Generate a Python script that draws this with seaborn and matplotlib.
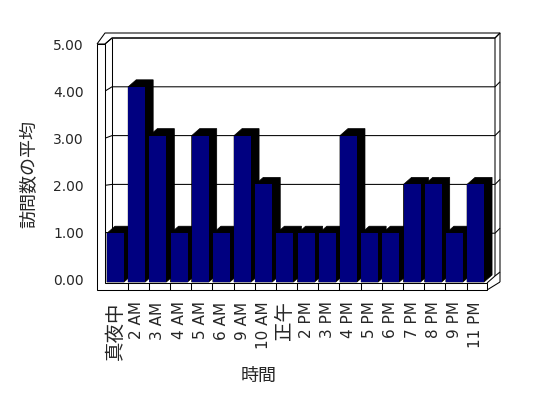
import matplotlib
matplotlib.use("Agg")
import matplotlib.pyplot as plt
import seaborn as sns
import pandas as pd
from matplotlib.patches import Polygon
from matplotlib.lines import Line2D

# ---- data ----
categories = ["真夜中", "2 AM", "3 AM", "4 AM", "5 AM", "6 AM", "9 AM", "10 AM", "正午",
              "2 PM", "3 PM", "4 PM", "5 PM", "6 PM", "7 PM", "8 PM", "9 PM", "11 PM"]
values = [1, 4, 3, 1, 3, 1, 3, 2, 1, 1, 1, 3, 1, 1, 2, 2, 1, 2]
ytick_values = [0, 1, 2, 3, 4, 5]
ytick_labels = ["0.00", "1.00", "2.00", "3.00", "4.00", "5.00"]
xlabel = "時間"
ylabel = "訪問数の平均"

# ---- style ----
W, H = 548, 398
sns.set_theme(style="white")
plt.rcParams["font.family"] = ["DejaVu Sans", "Noto Sans CJK JP"]
NAVY = "#000080"
LW = 0.75

fig = plt.figure(figsize=(W / 100, H / 100), dpi=100)
fig.patch.set_facecolor("white")

# background overlay in pixel coordinates (y downwards) for the 3-D frame
bg = fig.add_axes([0, 0, 1, 1], zorder=0)
bg.set_xlim(0, W)
bg.set_ylim(H, 0)
bg.axis("off")

# main axes: front plane of the columns
P = 21.18                     # slot pitch in px
c0 = 115.5                    # centre of first column
ax_left = c0 - P / 2
ax_w = 18 * P
y0_px, y5_px = 282.0, 38.0    # value 0 and value 5 on the column plane
ax = fig.add_axes([ax_left / W, (H - y0_px) / H, ax_w / W, (y0_px - y5_px) / H], zorder=2)
ax.patch.set_alpha(0)

df = pd.DataFrame({xlabel: categories, ylabel: values})
sns.barplot(data=df, x=xlabel, y=ylabel, order=categories, ax=ax, color=NAVY,
            saturation=1, width=17 / P, linewidth=0, errorbar=None)
ax.set_xlim(-0.5, len(categories) - 0.5)
ax.set_ylim(0, 5)
for s in ax.spines.values():
    s.set_visible(False)
ax.set_yticks([])
ax.set_ylabel("")
ax.set_xticks(range(len(categories)))
ax.set_xticklabels(categories, rotation=90)
ax.tick_params(axis="x", length=0, pad=14)
for t in ax.get_xticklabels():
    if any(ord(ch) > 0x3000 for ch in t.get_text()):
        t.set_fontsize(14)
        t.set_family(["Noto Sans CJK JP"])
    else:
        t.set_fontsize(11)
ax.set_xlabel(xlabel, fontsize=13, family=["Noto Sans CJK JP"])
ax.xaxis.label.set_va("center")
ax.xaxis.set_label_coords((258.5 - ax_left) / ax_w, (y0_px - 376) / (y0_px - y5_px))

# wall axes: front face of the left wall carries the value scale
yf0, yf5 = 279.5, 44.0
wax = fig.add_axes([97 / W, (H - yf0) / H, 8 / W, (yf0 - yf5) / H], zorder=1)
wax.patch.set_alpha(0)
for s in wax.spines.values():
    s.set_visible(False)
wax.set_ylim(0, 5)
wax.set_xticks([])
wax.set_yticks(ytick_values)
wax.set_yticklabels(ytick_labels)
wax.tick_params(axis="y", length=0, pad=9.5, labelsize=10)
wax.set_ylabel(ylabel, fontsize=13, family=["Noto Sans CJK JP"])
wax.yaxis.label.set_va("center")
wax.yaxis.set_label_coords((29 - 97) / 8, (yf0 - 174) / (yf0 - yf5))

fig.canvas.draw()


def col_px(x, y):
    X, Y = ax.transData.transform((x, y))
    return X, H - Y


def wall_px(y):
    _, Y = wax.transData.transform((0, y))
    return H - Y


def line(pts, z=3):
    xs, ys = zip(*pts)
    bg.add_line(Line2D(xs, ys, color="black", lw=LW, zorder=z, solid_capstyle="butt"))


# ---- frame ----
ftop = wall_px(5)
btop = col_px(0, 5)[1]
floor_top, floor_bot = 283, 290
x_front_out, x_front_in, x_back = 97, 105, 112
x_right_in, x_right_out = 495, 500
x_floor_r = 487

# left wall + floor front slab
bg.add_patch(Polygon([(x_front_out, ftop), (x_front_in, ftop), (x_front_in, floor_top),
                      (x_floor_r, floor_top), (x_floor_r, floor_bot), (x_front_out, floor_bot)],
                     closed=True, facecolor="white", edgecolor="black", lw=LW, zorder=4))
# top edges of walls
line([(x_front_out, ftop), (x_front_in, btop - 5), (x_right_out, btop - 5), (x_right_out, 282)])
line([(x_front_in, ftop), (x_back, btop), (x_right_in, btop), (x_right_in, 276)])
line([(x_right_in, btop), (x_right_out, btop - 5)])
line([(x_back, btop), (x_back, 276)])
# floor right face
line([(x_floor_r, floor_top), (x_right_in, 276)])
line([(x_floor_r, floor_bot), (x_right_out, 282)])
line([(x_right_in, 276), (x_right_out, 272)])

# gridlines (front tick -> wall diagonal -> back wall -> right wall thickness)
for v in ytick_values[1:]:
    yf = wall_px(v)
    yb = col_px(0, v)[1]
    line([(x_front_out, yf), (x_front_in, yf), (x_back, yb), (x_right_in, yb),
          (x_right_out, yb - 5)], z=2)

# category dividers on the floor front
for bar in ax.patches[1:]:
    xl, _ = col_px(bar.get_x(), 0)
    line([(xl - 0.5, floor_top), (xl - 0.5, floor_bot)], z=5)

# column depth (side and top faces)
dx, dy = 8, -7
for bar in ax.patches:
    L, T = col_px(bar.get_x(), bar.get_height())
    R, B = col_px(bar.get_x() + bar.get_width(), 0)
    bg.add_patch(Polygon([(L, B), (L, T), (L + dx, T + dy), (R + dx, T + dy),
                          (R + dx, B + dy), (R, B)], closed=True,
                         facecolor="black", edgecolor="black", lw=0.5, zorder=6))

fig.savefig("out.png", dpi=100)
